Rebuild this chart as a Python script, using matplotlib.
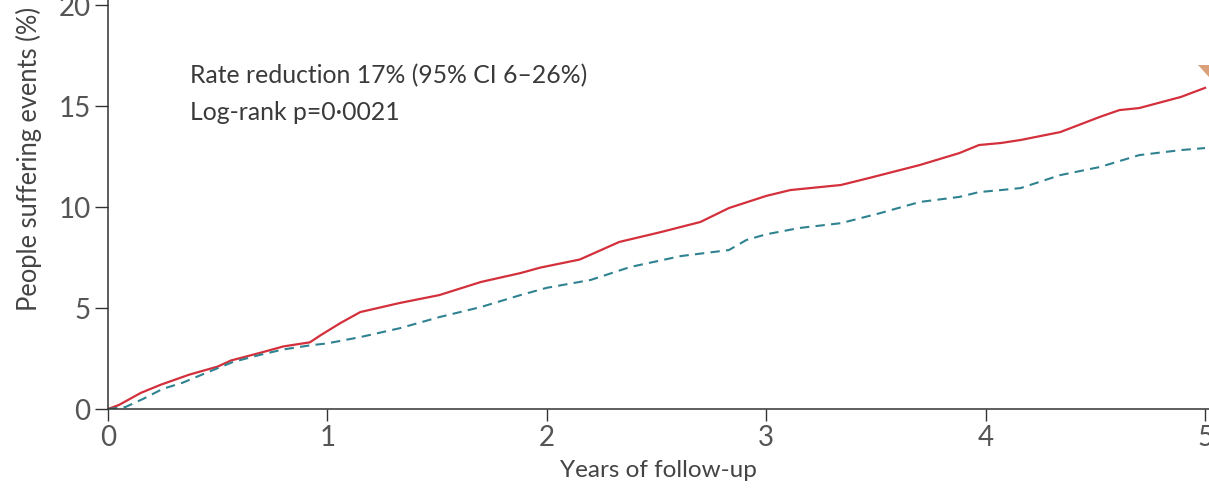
import matplotlib
matplotlib.use("Agg")
import matplotlib.pyplot as plt
from matplotlib.patches import Polygon

# Cumulative incidence (%) by years of follow-up
control_years = [0, 0.05, 0.15, 0.24, 0.37, 0.50, 0.56, 0.70, 0.80, 0.92, 0.97,
                 1.06, 1.15, 1.33, 1.51, 1.70, 1.88, 1.97, 2.15, 2.33, 2.52,
                 2.70, 2.83, 3.00, 3.11, 3.34, 3.47, 3.70, 3.88, 3.97, 4.07,
                 4.16, 4.34, 4.52, 4.61, 4.70, 4.89, 5.00]
control_pct = [0, 0.2, 0.8, 1.2, 1.7, 2.1, 2.4, 2.8, 3.1, 3.3, 3.66,
               4.26, 4.8, 5.25, 5.64, 6.29, 6.73, 7.0, 7.4, 8.27, 8.76,
               9.26, 9.95, 10.55, 10.84, 11.09, 11.44, 12.08, 12.67, 13.07, 13.17,
               13.32, 13.71, 14.46, 14.8, 14.9, 15.45, 15.9]

treated_years = [0, 0.08, 0.16, 0.25, 0.34, 0.45, 0.57, 0.70, 0.80, 0.92, 1.00,
                 1.15, 1.33, 1.51, 1.70, 1.88, 2.00, 2.20, 2.38, 2.61, 2.83,
                 2.91, 3.00, 3.15, 3.34, 3.52, 3.70, 3.88, 3.97, 4.07, 4.16,
                 4.34, 4.52, 4.70, 4.89, 5.00]
treated_pct = [0, 0.1, 0.5, 1.0, 1.3, 1.8, 2.33, 2.7, 2.95, 3.15, 3.25,
               3.56, 4.0, 4.55, 5.05, 5.64, 6.0, 6.39, 7.03, 7.57, 7.87,
               8.37, 8.65, 8.96, 9.2, 9.7, 10.25, 10.5, 10.74, 10.84, 10.94,
               11.58, 11.98, 12.57, 12.82, 12.92]

x_ticks = [0, 1, 2, 3, 4, 5]
y_ticks = [0, 5, 10, 15, 20]
annotation_lines = ["Rate reduction 17% (95% CI 6\u201326%)", "Log-rank p=0\u00b70021"]

plt.rcParams['font.family'] = ['Lato', 'DejaVu Sans']

fig = plt.figure(figsize=(12.09, 4.90), dpi=100)
ax = fig.add_axes([108 / 1209, 81 / 490, 1 - 108 / 1209, 1 - 81 / 490])

ax.plot(control_years, control_pct, color="#d3303c", lw=1.6)
ax.plot(treated_years, treated_pct, color="#2f8290", lw=1.5, dashes=(4.5, 3))

ax.set_xlim(0, 5.018)
ax.set_ylim(0, 20.25)
ax.set_xticks(x_ticks)
ax.set_yticks(y_ticks)

for side in ("top", "right"):
    ax.spines[side].set_visible(False)
for side in ("left", "bottom"):
    ax.spines[side].set_color("#333333")
    ax.spines[side].set_linewidth(1.1)

ax.tick_params(axis="x", direction="out", length=8.5, width=1.0, color="#333333",
               labelsize=20, labelcolor="#555555", pad=3)
ax.tick_params(axis="y", direction="out", length=9.5, width=1.0, color="#333333",
               labelsize=20, labelcolor="#555555", pad=3)

ax.set_xlabel("Years of follow-up", fontsize=17.5, color="#444444")
ax.xaxis.set_label_coords(0.5, -0.125)
ax.set_ylabel("People suffering events (%)", fontsize=18.4, color="#444444")
ax.yaxis.set_label_coords(-0.060, 0.611)

ax.text(0.374, 16.5, annotation_lines[0], fontsize=17.8, color="#3a3a3a", va="center", ha="left")
ax.text(0.374, 14.7, annotation_lines[1], fontsize=17.8, color="#3a3a3a", va="center", ha="left")

# folded corner mark at the top right
W, H = 1209, 490
corner = Polygon([(1198 / W, 1 - 65 / H), (1.0, 1 - 65 / H), (1.0, 1 - 77 / H)],
                 closed=True, transform=fig.transFigure, color="#d9a07a", lw=0)
fig.patches.append(corner)

fig.savefig("out.png", dpi=100)
